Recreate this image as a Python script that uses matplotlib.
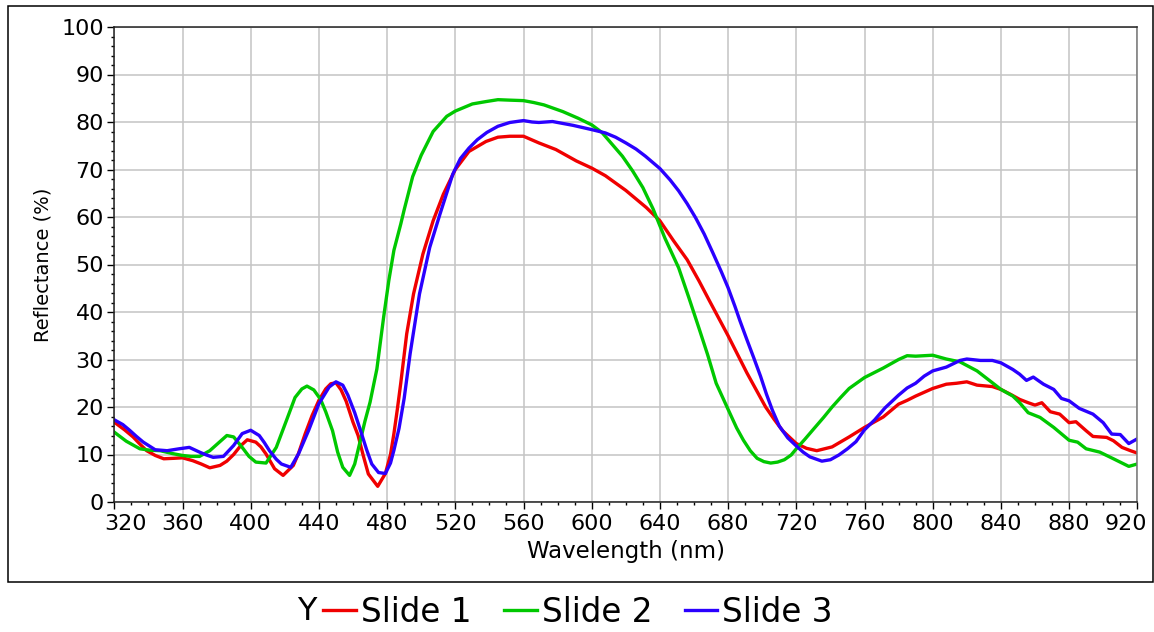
import matplotlib
matplotlib.use("Agg")
from matplotlib import pyplot as plt
from matplotlib.patches import Rectangle
from matplotlib.ticker import MultipleLocator
from matplotlib.transforms import ScaledTranslation

# Slide 1 (red)
wl_slide1 = [320, 326, 331, 335, 339, 344, 349, 355, 360, 366, 371, 376, 382, 386, 390, 394,
             398, 403, 406, 409, 414, 419, 425, 428, 432, 436, 440, 444, 447, 450, 453, 456,
             460, 463, 466, 469, 474.5, 479, 482, 484, 486, 488, 491.5, 495.5, 501, 507, 513,
             520, 528, 538, 545, 552, 560, 569, 579, 591, 600, 608, 620, 632, 640, 648, 656,
             663, 669, 680, 691, 702, 707, 712, 720, 726, 732, 741, 751, 760, 771, 780, 785,
             790, 800, 808, 814, 820, 826, 835, 840, 846, 851, 856, 860, 864, 869, 874.5, 880,
             884, 890, 894, 902, 906, 911, 916, 920]
refl_slide1 = [16.8, 15.2, 13.7, 12.2, 10.8, 9.8, 9.1, 9.2, 9.3, 8.7, 8.0, 7.2, 7.7, 8.6, 10.0, 11.8,
               13.1, 12.6, 11.6, 10.1, 7.0, 5.6, 7.7, 10.2, 14.4, 18.2, 21.4, 23.8, 24.9, 25.1, 23.6, 21.2,
               16.8, 14.0, 9.8, 5.9, 3.3, 6.0, 10.0, 14.4, 19.5, 25.0, 35.4, 43.8, 52.2, 59.2, 64.8,
               70.0, 73.8, 75.9, 76.8, 77.0, 77.0, 75.6, 74.2, 71.8, 70.3, 68.7, 65.6, 62.0, 59.2, 55.0, 51.0,
               46.5, 42.4, 35.0, 27.2, 20.0, 17.4, 15.0, 12.3, 11.3, 10.8, 11.6, 13.7, 15.7, 17.9, 20.6, 21.4,
               22.3, 23.9, 24.8, 25.0, 25.3, 24.6, 24.3, 23.7, 22.6, 21.6, 20.9, 20.4, 20.9, 19.0, 18.5, 16.7,
               16.9, 15.0, 13.8, 13.6, 12.9, 11.5, 10.8, 10.3]

# Slide 2 (green)
wl_slide2 = [320, 327, 335, 341, 347, 354, 360, 365, 370, 376, 381, 386, 390, 395, 399, 403,
             409, 415, 421, 426, 430, 433, 437, 441, 444, 448, 451, 454, 458, 461, 464, 467,
             470, 474, 478, 481, 484, 488, 490, 495, 500, 507, 515, 520, 530, 538, 545, 552,
             560, 566, 572, 583, 592, 600, 606, 612, 618, 624, 630, 636, 643, 651, 657, 663,
             668, 673, 680, 685, 689, 693, 697, 701, 705, 709, 713, 717, 720, 725, 730, 736,
             741, 746, 751, 760, 771, 780, 785, 790, 795, 800, 808, 816, 826, 835, 840, 847,
             851, 856, 863, 871, 880, 885, 890, 898, 906, 915, 920]
refl_slide2 = [14.7, 12.8, 11.2, 10.9, 10.8, 10.2, 9.8, 9.6, 9.6, 10.8, 12.4, 14.0, 13.7, 11.5, 9.6, 8.4,
               8.2, 11.5, 17.2, 22.0, 23.8, 24.4, 23.6, 21.6, 19.0, 15.0, 10.5, 7.3, 5.6, 8.0, 12.5, 17.0,
               21.0, 28.0, 39.0, 46.6, 53.0, 58.5, 61.5, 68.5, 73.0, 78.0, 81.2, 82.3, 83.8, 84.3, 84.7, 84.6,
               84.5, 84.1, 83.6, 82.2, 80.8, 79.4, 77.8, 75.3, 72.8, 69.7, 66.2, 61.7, 55.5, 49.3, 43.0, 36.5,
               31.0, 25.0, 19.5, 15.6, 13.0, 10.8, 9.2, 8.5, 8.2, 8.4, 8.9, 9.9, 11.2, 13.2, 15.3, 17.8,
               20.0, 22.0, 23.9, 26.2, 28.2, 30.0, 30.8, 30.7, 30.8, 30.9, 30.1, 29.5, 27.6, 25.1, 23.7, 22.3,
               20.9, 18.8, 17.8, 15.7, 13.0, 12.6, 11.2, 10.5, 9.1, 7.5, 8.0]

# Slide 3 (blue)
wl_slide3 = [320, 325, 329, 333, 337, 344, 351, 358, 364, 370, 374, 378, 384, 390, 395, 400,
             405, 408, 411, 415, 418, 423.5, 428, 434, 440, 446, 450, 454, 457, 461, 465, 468,
             471, 475, 479, 482, 484, 487, 490, 493.5, 499, 505, 511, 518.5, 523, 528, 533, 538.5,
             545, 552, 560, 565, 569, 577, 589, 600, 608, 614, 620, 626, 631.5, 640, 646, 651,
             656, 661, 666, 671, 676, 680, 684, 687, 691, 695, 699, 702.5, 706, 710, 715, 720,
             724, 728, 735, 740, 745, 750, 755, 760, 766, 772, 780, 785, 790, 795, 800, 808,
             816, 820, 828, 835, 840, 847, 851, 855, 859, 865, 871, 875.5, 880, 886, 894, 900,
             905, 910, 915, 920]
refl_slide3 = [17.3, 16.3, 15.1, 13.8, 12.6, 11.0, 10.8, 11.2, 11.5, 10.5, 9.9, 9.4, 9.6, 11.9, 14.4, 15.1,
               14.0, 12.5, 10.8, 9.0, 8.0, 7.3, 10.1, 15.1, 20.7, 24.2, 25.3, 24.6, 22.5, 18.8, 14.4, 11.0,
               8.0, 6.2, 6.0, 8.2, 10.9, 15.5, 21.8, 31.2, 43.8, 53.6, 60.6, 69.0, 72.3, 74.5, 76.3, 77.8,
               79.1, 79.9, 80.3, 80.0, 79.9, 80.1, 79.3, 78.4, 77.7, 76.8, 75.6, 74.3, 72.8, 70.2, 67.8, 65.5,
               62.8, 59.8, 56.4, 52.5, 48.5, 45.1, 41.2, 38.1, 34.2, 30.4, 26.5, 22.7, 19.3, 16.0, 13.5, 11.8,
               10.5, 9.5, 8.6, 8.9, 9.9, 11.2, 12.7, 15.2, 17.3, 19.8, 22.5, 24.0, 25.0, 26.5, 27.6, 28.4,
               29.8, 30.1, 29.8, 29.8, 29.3, 27.9, 26.9, 25.6, 26.3, 24.8, 23.7, 21.8, 21.3, 19.7, 18.5, 16.7,
               14.3, 14.2, 12.3, 13.3]

x_ticks = list(range(320, 921, 40))
y_ticks = list(range(0, 101, 10))

W, H = 1154, 632
fig = plt.figure(figsize=(W / 100, H / 100), dpi=100)
plt.rcParams['font.family'] = ['DejaVu Sans']

# outer frame around the chart
fig.patches.append(Rectangle((7.5 / W, 1 - 581.5 / H), (1153 - 7.5) / W, (581.5 - 6) / H,
                             transform=fig.transFigure, fill=False, edgecolor='black', lw=1.1))

ax = fig.add_axes([114.3 / W, 1 - 502 / H, (1137.3 - 114.3) / W, (502 - 27) / H])

ax.plot(wl_slide1, refl_slide1, color='#f00000', lw=2.4, label='Slide 1')
ax.plot(wl_slide2, refl_slide2, color='#00c800', lw=2.4, label='Slide 2')
ax.plot(wl_slide3, refl_slide3, color='#2a00ff', lw=2.4, label='Slide 3')

ax.set_xlim(320, 920)
ax.set_ylim(0, 100)
ax.tick_params(which='major', length=5, width=1.0, labelsize=16, pad=2.5, colors='black')
ax.tick_params(axis='x', which='major', pad=4)
ax.tick_params(which='minor', length=2.5, width=1.0)
ax.set_xticks(x_ticks)
ax.set_yticks(y_ticks)
ax.xaxis.set_minor_locator(MultipleLocator(10))
ax.yaxis.set_minor_locator(MultipleLocator(2))
ax.grid(True, which='major', color='#c4c4c4', lw=1.1)
ax.set_axisbelow(True)

for s in ['left', 'bottom', 'top']:
    ax.spines[s].set_color('#222222')
    ax.spines[s].set_linewidth(1.1)
ax.spines['right'].set_color('#777777')
ax.spines['right'].set_linewidth(1.1)

# first and last x labels are pulled inside the plot edges
xlabels = ax.get_xticklabels()
xlabels[0].set_transform(xlabels[0].get_transform() + ScaledTranslation(11 / 100, 0, fig.dpi_scale_trans))
xlabels[-1].set_transform(xlabels[-1].get_transform() + ScaledTranslation(-11 / 100, 0, fig.dpi_scale_trans))

ax.set_xlabel('Wavelength (nm)', fontsize=16.5, labelpad=4)
ax.set_ylabel('Reflectance (%)', fontsize=14, labelpad=6)

fig.text(307 / W, 1 - 612 / H, 'Y', fontsize=23, ha='center', va='center')
fig.legend(loc='center', bbox_to_anchor=(578 / W, 1 - 612 / H), ncol=3, frameon=False,
           fontsize=23.5, handlelength=1.0, handletextpad=0.15, columnspacing=1.0,
           borderaxespad=0)

fig.savefig('out.png', dpi=100)
